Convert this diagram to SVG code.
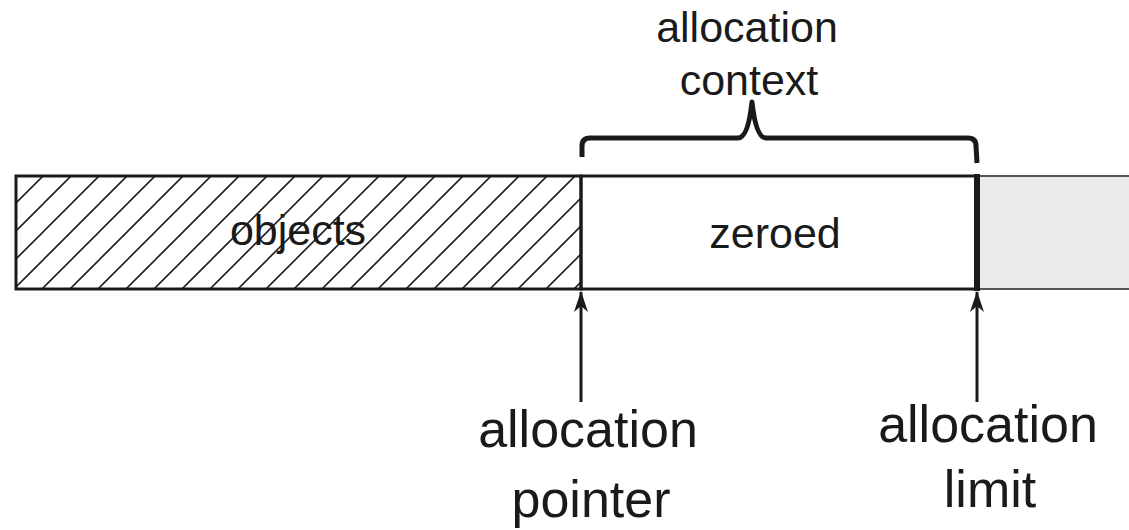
<svg xmlns="http://www.w3.org/2000/svg" width="1129" height="530" viewBox="0 0 1129 530">
  <style>
    text { font-family: "Liberation Sans", Arial, sans-serif; fill: #1a1a1a; text-anchor: middle; }
    .mid { font-size: 43px; }
    .big { font-size: 52px; }
    .edge { stroke: #1a1a1a; fill: none; }
  </style>
  <defs>
    <pattern id="hatch" patternUnits="userSpaceOnUse" width="28" height="28" patternTransform="translate(16 175)">
      <path d="M-7 7 L7 -7 M0 28 L28 0 M21 35 L35 21" stroke="#222" stroke-width="1.6"/>
    </pattern>
    <marker id="head" viewBox="0 0 22 14" refX="21" refY="7" markerWidth="22" markerHeight="14" markerUnits="userSpaceOnUse" orient="auto">
      <path d="M22 7 L1 0 L7 7 L1 14 Z" fill="#1a1a1a"/>
    </marker>
  </defs>

  <!-- free space beyond the limit -->
  <g id="free">
    <rect x="980" y="176" width="150" height="113" fill="#ebebeb"/>
    <line x1="980" y1="176" x2="1129" y2="176" stroke="#555" stroke-width="2"/>
    <line x1="980" y1="289" x2="1129" y2="289" stroke="#555" stroke-width="2"/>
  </g>

  <!-- allocated objects -->
  <g id="objects">
    <rect x="16" y="176" width="565" height="113" fill="url(#hatch)"/>
    <rect x="16" y="176" width="565" height="113" class="edge" stroke-width="3"/>
    <text class="mid" x="298" y="245">objects</text>
  </g>

  <!-- zeroed region -->
  <g id="zeroed">
    <rect x="581" y="176" width="396" height="113" fill="#fff" class="edge" stroke-width="3"/>
    <text class="mid" x="775" y="248">zeroed</text>
  </g>

  <!-- limit boundary -->
  <g id="limit-edge">
    <line x1="977" y1="174" x2="977" y2="291" stroke="#1a1a1a" stroke-width="6"/>
  </g>

  <!-- brace over the allocation context -->
  <g id="context">
    <path d="M582 157 L582 146 Q582 138 590 138 L738 138 Q748 138 752 102 Q756 138 766 138 L968 138 Q976 138 976 146 L977 163" fill="none" stroke="#1a1a1a" stroke-width="5" stroke-linejoin="round"/>
    <text class="mid" x="747" y="42">allocation</text>
    <text class="mid" x="749" y="95">context</text>
  </g>

  <!-- pointer labels -->
  <g id="pointer">
    <text class="big" x="588" y="447">allocation</text>
    <text class="big" x="591" y="517">pointer</text>
  </g>
  <g id="limit">
    <text class="big" x="988" y="442">allocation</text>
    <text class="big" x="990" y="507">limit</text>
  </g>

  <g id="connectors">
    <line x1="581" y1="402" x2="581" y2="292" stroke="#1a1a1a" stroke-width="3" marker-end="url(#head)"/>
    <line x1="977" y1="402" x2="977" y2="292" stroke="#1a1a1a" stroke-width="3" marker-end="url(#head)"/>
  </g>
</svg>
